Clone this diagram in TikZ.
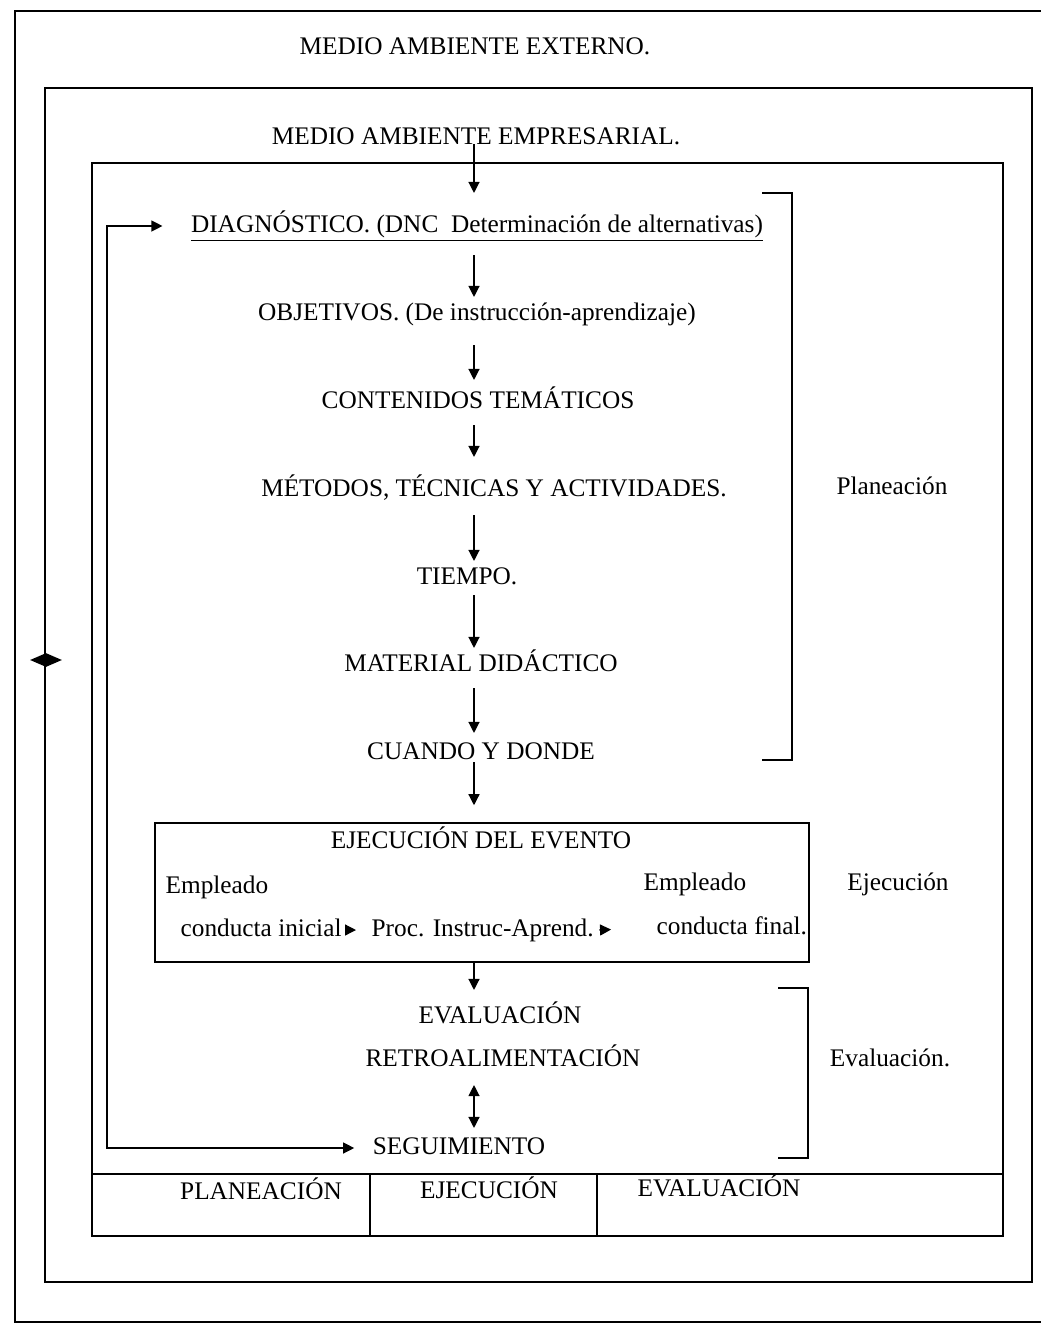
\documentclass[tikz,border=0pt]{standalone}
\usepackage{fontspec}
\setmainfont{Liberation Serif}
\usetikzlibrary{positioning,arrows.meta,calc,shapes.geometric}

\begin{document}
\begin{tikzpicture}[x=0.02cm,y=-0.02cm,>={Triangle[length=2.2mm,width=2.2mm]},
  every node/.style={font=\fontsize{14.4}{17}\selectfont,inner sep=3pt,text height=10pt,text depth=3pt},
  frame/.style={draw,line width=0.9pt},
  flow/.style={->,line width=0.7pt}]
\useasboundingbox (0,0) rectangle (1041,1325);
\draw[frame] (1041,11) -- (15,11) -- (15,1322) -- (1041,1322);
\draw[frame] (45,88) rectangle (1032,1282);
\draw[frame] (92,163) rectangle (1003,1236);
\draw[frame] (92,1174) -- (1003,1174);
\draw[frame] (370,1174) -- (370,1236);
\draw[frame] (597,1174) -- (597,1236);
\coordinate (eje) at (474,0);
\coordinate (lazo) at (107,0);
\node (ext) at (475,48) {MEDIO AMBIENTE EXTERNO.};
\node (emp) at (476,138) {MEDIO AMBIENTE EMPRESARIAL.};
\node (diag) at (477,226) {\underline{DIAGNÓSTICO. (DNC\ \ Determinación de alternativas)}};
\node (obj) at (477,314) {OBJETIVOS. (De instrucción-aprendizaje)};
\node (cont) at (478,402) {CONTENIDOS TEMÁTICOS};
\node (met) at (494,490) {MÉTODOS, TÉCNICAS Y ACTIVIDADES.};
\node (tiem) at (467,578) {TIEMPO.};
\node (mat) at (481,665) {MATERIAL DIDÁCTICO};
\node (cuan) at (481,753) {CUANDO Y DONDE};
\node[frame,minimum width=13.08cm,minimum height=2.78cm,inner sep=0,text height=,text depth=] (evt) at (482,892.5) {};
\node (tit) at (481,842) {EJECUCIÓN DEL EVENTO};
\node[anchor=west] (empI) at (160,887) {Empleado};
\node[anchor=west] (ini) at (175,930) {conducta inicial};
\node[anchor=west] (proc) at (366,930) {Proc. Instruc-Aprend.};
\node[anchor=west] (empF) at (638,884) {Empleado};
\node[anchor=west] (fin) at (651,928) {conducta final.};
\node (eval) at (500,1017) {EVALUACIÓN};
\node (retro) at (503,1060) {RETROALIMENTACIÓN};
\node (seg) at (459,1148) {SEGUIMIENTO};
\node (planea) at (892,488) {Planeación};
\node (ejecu) at (898,884) {Ejecución};
\node (evalua) at (890,1060) {Evaluación.};
\node (cPlan) at (261,1193) {PLANEACIÓN};
\node (cEje) at (489,1192) {EJECUCIÓN};
\node (cEva) at (719,1190) {EVALUACIÓN};
\node[diamond,fill=black,inner sep=0,minimum width=0.64cm,minimum height=0.28cm,text height=,text depth=] (rombo) at (46,660) {};

\draw[flow,shorten >=3.2mm] (emp.base -| eje) -- (diag.north -| eje);
\draw[flow,shorten <=2.4mm] (diag.south -| eje) -- (obj.north -| eje);
\draw[flow,shorten <=2.8mm,shorten >=1mm] (obj.south -| eje) -- (cont.north -| eje);
\draw[flow,shorten <=1.2mm,shorten >=3.2mm] (cont.south -| eje) -- (met.north -| eje);
\draw[flow,shorten <=1.6mm] (met.south -| eje) -- (tiem.north -| eje);
\draw[flow] (tiem.south -| eje) -- (mat.north -| eje);
\draw[flow,shorten <=1.2mm,shorten >=0.6mm] (mat.south -| eje) -- (cuan.north -| eje);
\draw[flow,shorten <=-1.6mm,shorten >=3.4mm] (cuan.south -| eje) -- (evt.north -| eje);
\draw[flow,shorten >=2mm] (evt.south -| eje) -- (eval.north -| eje);
\draw[<->,line width=0.7pt,shorten <=1.6mm,shorten >=0.6mm] (retro.south -| eje) -- (seg.north -| eje);
\draw[flow,shorten >=2mm] (ini.east) -- (proc.west);
\draw[flow,shorten >=8mm] (proc.east) -- (fin.west);
\draw[<->,line width=0.7pt,shorten <=4.6mm,shorten >=2.6mm] (diag.west) -- (diag.west -| lazo) -- (seg.west -| lazo) -- (seg.west);

\draw[line width=0.8pt] (762,193) -- (792,193) -- (792,760) -- (762,760);
\draw[line width=0.8pt] (778,988) -- (808,988) -- (808,1158) -- (778,1158);
\end{tikzpicture}
\end{document}
